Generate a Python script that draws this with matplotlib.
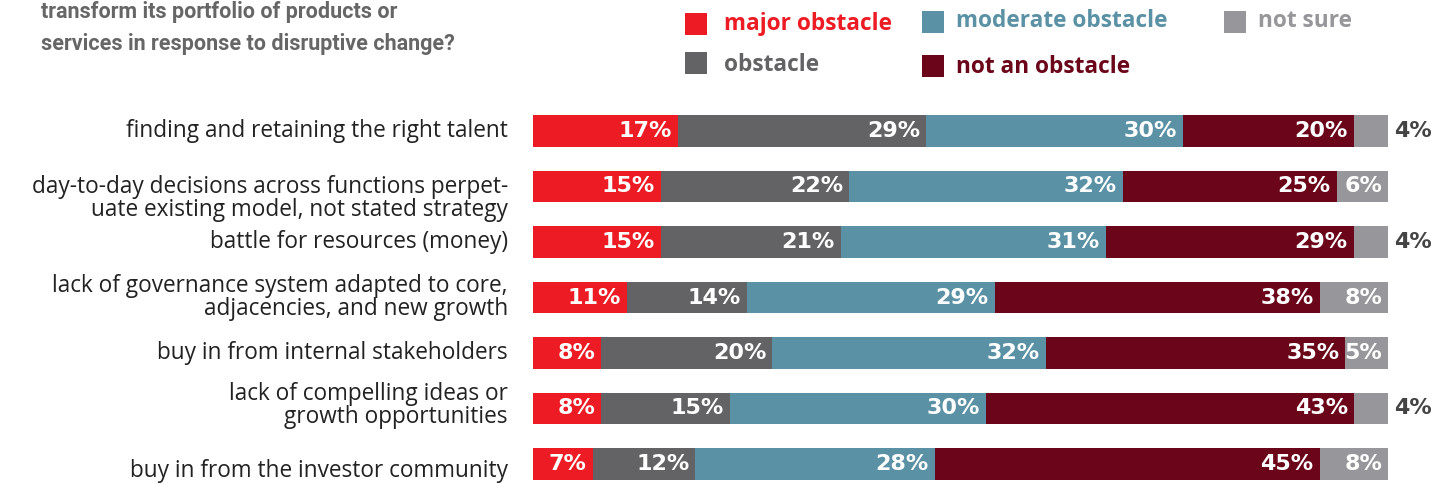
import numpy as np
import matplotlib
matplotlib.use("Agg")
import matplotlib.pyplot as plt
from matplotlib.patches import Rectangle

W, H = 1452, 484
C = {"major": "#ED1C24", "obst": "#636366", "moder": "#5A91A4",
     "not": "#6B061A", "unsure": "#97979B", "txt": "#222222", "fora": "#444444"}

categorias = ["finding and retaining the right talent",
              "day-to-day decisions across functions perpet-\nuate existing model, not stated strategy",
              "battle for resources (money)",
              "lack of governance system adapted to core,\nadjacencies, and new growth",
              "buy in from internal stakeholders",
              "lack of compelling ideas or\ngrowth opportunities",
              "buy in from the investor community"]
major_obstacle = [17, 15, 15, 11, 8, 8, 7]
obstacle = [29, 22, 21, 14, 20, 15, 12]
moderate_obstacle = [30, 32, 31, 29, 32, 30, 28]
not_an_obstacle = [20, 25, 29, 38, 35, 43, 45]
not_sure = [4, 6, 4, 8, 5, 4, 8]

series = [("major obstacle", major_obstacle, C["major"]),
          ("obstacle", obstacle, C["obst"]),
          ("moderate obstacle", moderate_obstacle, C["moder"]),
          ("not an obstacle", not_an_obstacle, C["not"]),
          ("not sure", not_sure, C["unsure"])]

def fx(px): return px / W
def fy(py): return 1 - py / H

fig = plt.figure(figsize=(W / 100, H / 100), dpi=100)
fig.patch.set_facecolor("white")

# eixo em pixels: 0-100% entre x=533 e x=1388, linhas a cada 55.5 px
y0, passo = 131, 55.5
ax = fig.add_axes([fx(533), 0, fx(1388) - fx(533), (H - 100) / H])
ax.set_xlim(0, 100)
ax.set_ylim((H - y0) / passo, (100 - y0) / passo)
ax.axis("off")

pxu = 855 / 100  # px por ponto percentual
ypos = np.arange(len(categorias))
esq = np.zeros(len(categorias))
for nome, vals, cor in series:
    vals = np.array(vals, dtype=float)
    ax.barh(ypos, vals, left=esq, height=0.56, color=cor, linewidth=0)
    for i, (v, l) in enumerate(zip(vals, esq)):
        if v <= 4:
            ax.text(l + v + 6 / pxu, i, f"{v:.0f}%", ha="left", va="center",
                    fontsize=16, fontweight="bold", family="DejaVu Sans", color=C["fora"], clip_on=False)
        else:
            ax.text(l + v - 6 / pxu, i, f"{v:.0f}%", ha="right", va="center",
                    fontsize=16, fontweight="bold", family="DejaVu Sans", color="white")
    esq += vals

desloc = [0, 0.22, 0, 0, 0, -0.05, 0.12]
for i, (cat, d) in enumerate(zip(categorias, desloc)):
    ax.text(-25 / pxu, i + d, cat, ha="right", va="center", fontsize=16.3,
            family="Open Sans", color=C["txt"], linespacing=0.92, clip_on=False)

# pergunta (título cortado no topo)
for txt, base in [("transform its portfolio of products or", 18),
                  ("services in response to disruptive change?", 50)]:
    fig.text(fx(41), fy(base), txt, ha="left", va="baseline", fontsize=15.5,
             fontweight="bold", family="Roboto", color="#666666")

# legenda manual
leg = [("major obstacle", C["major"], 685, 13, 30),
       ("obstacle", C["obst"], 685, 52, 71),
       ("moderate obstacle", C["moder"], 922, 11, 27),
       ("not an obstacle", C["not"], 922, 55, 73),
       ("not sure", C["unsure"], 1224, 11, 27)]
for txt, cor, x, ytop, base in leg:
    fig.patches.append(Rectangle((fx(x), fy(ytop + 22)), 22 / W, 22 / H,
                                 transform=fig.transFigure, color=cor, linewidth=0))
    dx = 34 if x == 1224 else (39 if x == 685 else 34)
    fig.text(fx(x + dx), fy(base), txt, ha="left", va="baseline",
             fontsize=16.3, fontweight="bold", family="Open Sans", color=cor)

fig.savefig("out.png", dpi=100, facecolor="white")
